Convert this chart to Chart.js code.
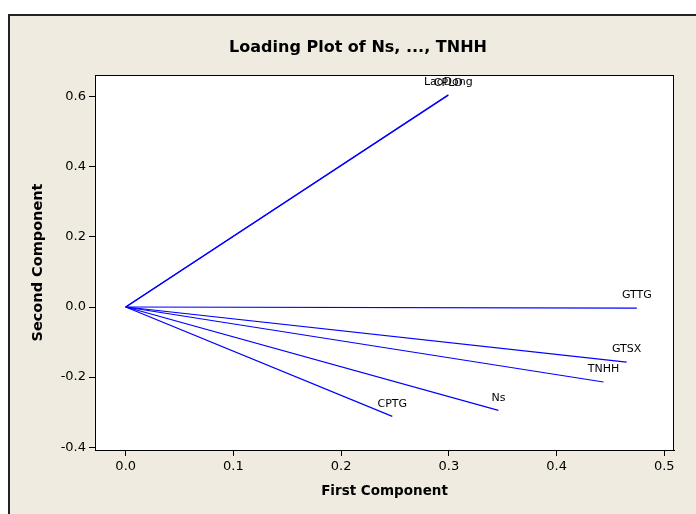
<!DOCTYPE html>
<html>
<head>
<meta charset="utf-8">
<script src="https://cdn.jsdelivr.net/npm/chart.js@4"></script>
<style>
  html, body { margin: 0; padding: 0; background: #ffffff; }
  #wrap { width: 696px; height: 514px; }
</style>
</head>
<body>
<div id="wrap"><canvas id="c" width="696" height="514"></canvas></div>
<script>
// ---- data ----
const variables = ['Ns', 'CPTG', 'TNHH', 'GTSX', 'GTTG', 'LaoDong', 'CPLD'];
const firstComponent = [0.346, 0.2475, 0.4435, 0.465, 0.4745, 0.2995, 0.2995];
const secondComponent = [-0.295, -0.312, -0.214, -0.157, -0.003, 0.606, 0.604];
const xTicks = [0.0, 0.1, 0.2, 0.3, 0.4, 0.5];
const yTicks = [-0.4, -0.2, 0.0, 0.2, 0.4, 0.6];
const chartTitle = 'Loading Plot of Ns, ..., TNHH';
const xTitle = 'First Component';
const yTitle = 'Second Component';

const BEIGE = '#EFEBE1';
const LINE_BLUE = '#0000FF';

const datasets = variables.map((name, i) => ({
  label: name,
  data: [{ x: 0, y: 0 }, { x: firstComponent[i], y: secondComponent[i] }],
  showLine: true,
  borderColor: LINE_BLUE,
  borderWidth: 1.2,
  pointRadius: 0,
  fill: false
}));

const framePlugin = {
  id: 'frame',
  beforeDraw(chart) {
    const { ctx, width, height, chartArea: a } = chart;
    ctx.save();
    ctx.fillStyle = '#ffffff';
    ctx.fillRect(0, 0, width, height);
    ctx.fillStyle = BEIGE;
    ctx.fillRect(9, 15, width - 9, height - 15);
    ctx.strokeStyle = '#222222';
    ctx.lineWidth = 2;
    ctx.beginPath();
    ctx.moveTo(9, height);
    ctx.lineTo(9, 15);
    ctx.lineTo(width, 15);
    ctx.stroke();
    ctx.fillStyle = '#ffffff';
    ctx.fillRect(a.left, a.top, a.right - a.left, a.bottom - a.top);
    ctx.restore();
  },
  afterDraw(chart) {
    const { ctx, chartArea: a } = chart;
    ctx.save();
    ctx.strokeStyle = '#000000';
    ctx.lineWidth = 1;
    ctx.strokeRect(Math.round(a.left) + 0.5, Math.round(a.top) + 0.5,
                   Math.round(a.right - a.left) - 1, Math.round(a.bottom - a.top));
    ctx.fillStyle = '#000000';
    ctx.font = 'bold 16px "DejaVu Sans"';
    ctx.textAlign = 'center';
    ctx.textBaseline = 'middle';
    ctx.fillText(chartTitle, 358, 48);
    ctx.restore();
  }
};

const labelPlugin = {
  id: 'varLabels',
  afterDatasetsDraw(chart) {
    const { ctx, scales: { x, y } } = chart;
    ctx.save();
    ctx.fillStyle = '#000000';
    ctx.font = '11px "DejaVu Sans"';
    ctx.textAlign = 'center';
    ctx.textBaseline = 'middle';
    variables.forEach((name, i) => {
      const px = x.getPixelForValue(firstComponent[i]);
      const py = y.getPixelForValue(secondComponent[i]);
      ctx.fillText(name, px, py - 12.5);
    });
    ctx.restore();
  }
};

new Chart(document.getElementById('c'), {
  type: 'scatter',
  data: { datasets },
  options: {
    responsive: false,
    animation: false,
    layout: { padding: { top: 75, right: 22, left: 0, bottom: 0 } },
    plugins: {
      legend: { display: false },
      title: { display: false },
      tooltip: { enabled: false }
    },
    scales: {
      x: {
        type: 'linear',
        min: -0.0285,
        max: 0.509,
        afterBuildTicks: s => { s.ticks = xTicks.map(v => ({ value: v })); },
        afterFit: s => { s.height = 64; },
        ticks: {
          color: '#000000',
          font: { family: 'DejaVu Sans', size: 13 },
          padding: 3,
          callback: v => Number(v).toFixed(1)
        },
        grid: { display: true, drawOnChartArea: false, drawTicks: true, tickLength: 6, color: '#000000' },
        border: { display: true, color: '#000000' },
        title: {
          display: true,
          text: xTitle,
          color: '#000000',
          font: { family: 'DejaVu Sans', size: 13.5, weight: 'bold' },
          padding: { top: 0, bottom: 14 }
        }
      },
      y: {
        type: 'linear',
        min: -0.408,
        max: 0.662,
        afterBuildTicks: s => { s.ticks = yTicks.map(v => ({ value: v })); },
        afterFit: s => { s.width = 95; },
        ticks: {
          color: '#000000',
          font: { family: 'DejaVu Sans', size: 13 },
          padding: 3,
          callback: v => Number(v).toFixed(1)
        },
        grid: { display: true, drawOnChartArea: false, drawTicks: true, tickLength: 6, color: '#000000' },
        border: { display: true, color: '#000000' },
        title: {
          display: true,
          text: yTitle,
          color: '#000000',
          font: { family: 'DejaVu Sans', size: 14.5, weight: 'bold' },
          padding: { top: 30, bottom: 0 }
        }
      }
    }
  },
  plugins: [framePlugin, labelPlugin]
});
</script>
</body>
</html>
